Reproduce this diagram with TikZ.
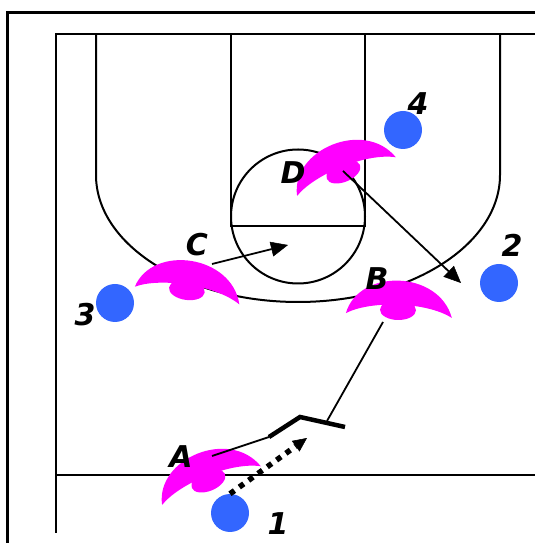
\documentclass[tikz,border=0pt]{standalone}
\usepackage{fontspec}
\setmainfont{DejaVu Sans}
\usetikzlibrary{arrows.meta, positioning, calc}
\definecolor{colPlayer}{RGB}{51, 102, 255}
\definecolor{colDef}{RGB}{255, 0, 255}

\tikzset{
    court/.style={line width=2pt},
    player/.style={circle, fill=colPlayer, minimum size=38pt, inner sep=0pt},
    tag/.style={font=\fontsize{30}{30}\selectfont\bfseries\itshape, inner sep=0pt},
    cut/.style={line width=1.8pt, -{Triangle[length=17pt, width=15pt, line width=0.5pt]}},
    pass/.style={line width=5.5pt, dash pattern=on 5.5pt off 6pt, -{Triangle[length=14pt, width=13pt, line width=0.5pt]}},
    screen/.style={line width=4.5pt},
    defender/.pic={
        \fill[colDef] (-52,-5) .. controls (-40,40) and (40,40) .. (54,-8)
            .. controls (28,8) and (-28,8) .. cycle;
        \fill[colDef] (0,-1) ellipse[x radius=18, y radius=10];
    }
}

\begin{document}
\begin{tikzpicture}[x=1pt, y=1pt]
    \useasboundingbox (0,0) rectangle (535,543);

    % --- Lapangan ---
    \draw[line width=3pt] (7,0) |- (535,530);
    \draw[court] (56,10) |- (535,509);
    \draw[court] (56,68) -- (535,68); % garis dasar
    \draw[court] (96,509) -- (96,368) arc[start angle=180, end angle=360, x radius=202, y radius=127] -- (500,509);
    \draw[court] (231,509) -- (231,317) -- (365,317) -- (365,509);
    \draw[court] (298,326.5) circle[radius=67];

    % --- Bertahan (A-D) ---
    \coordinate (dA) at (208,63);
    \coordinate (dB) at (398,234);
    \coordinate (dC) at (187,254);
    \coordinate (dD) at (343,372);
    \pic[rotate=23] at (dA) {defender};
    \pic[rotate=-1] at (dB) {defender};
    \pic[rotate=-8] at (dC) {defender};
    \pic[rotate=23] at (dD) {defender};

    % --- Pemain (1-4) ---
    \node[player] (p1) at (230,30) {};
    \node[player] (p2) at (499,260) {};
    \node[player] (p3) at (115,240) {};
    \node[player] (p4) at (403,413) {};

    % --- Label ---
    \node[tag] (l1) at (278,19) {1};
    \node[tag] (l2) at (512,298) {2};
    \node[tag] (l3) at (85,228) {3};
    \node[tag] (l4) at (418,439) {4};
    \node[tag] (lA) at (181,86) {A};
    \node[tag] (lB) at (377,264) {B};
    \node[tag] (lC) at (197,298) {C};
    \node[tag] (lD) at (293,370) {D};

    % --- Gerakan ---
    \coordinate (aTop) at (212,87);
    \coordinate (scrL) at (269,106);
    \coordinate (scrM) at (300,126);
    \coordinate (scrR) at (345,116);
    \coordinate (bFoot) at (383,221);
    \coordinate (bEnd) at (327,122);
    \coordinate (cStart) at (212,279);
    \coordinate (cTip) at (288,298);
    \coordinate (dTip) at (461,260);
    \coordinate (passTip) at (307,105);

    \draw[line width=1.8pt] (aTop) -- (scrL);
    \draw[screen] (scrL) -- (scrM) -- (scrR); % screen
    \draw[line width=1.8pt] (bFoot) -- (bEnd);
    \draw[cut] (cStart) -- (cTip);
    \draw[cut] (dD) -- (dTip);
    \draw[pass] (p1.north) -- (passTip); % operan
\end{tikzpicture}
\end{document}
